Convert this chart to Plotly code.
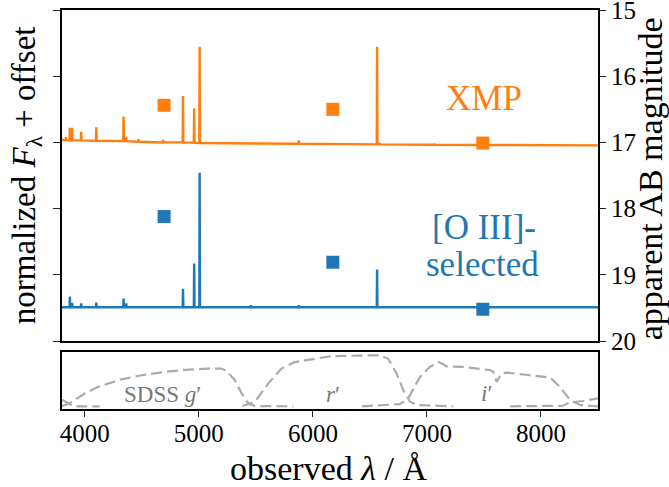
import plotly.graph_objects as go

# ---- spectra: emission-line centres (Å), peak heights and local continuum (offset flux units)
xmp_line_wl = [3835, 3869, 3889, 3968, 4101, 4340, 4363, 4471, 4686, 4861, 4959, 5007, 5876, 6563, 6584, 7065]
xmp_line_peak = [3.08, 3.22, 3.22, 3.16, 3.23, 3.39, 3.08, 3.05, 3.04, 3.70, 3.515, 4.445, 3.03, 4.445, 2.99, 2.98]
xmp_line_cont = [3.035, 3.03, 3.03, 3.03, 3.025, 3.02, 3.02, 3.01, 3.0, 3.0, 2.995, 2.99, 2.98, 2.97, 2.97, 2.965]
xmp_edge_wl = [3800, 8500]
xmp_edge_flux = [3.04, 2.955]

o3_line_wl = [3869, 3889, 3968, 4101, 4340, 4363, 4861, 4959, 5007, 5456, 5876, 6563]
o3_line_peak = [0.67, 0.575, 0.57, 0.58, 0.64, 0.57, 0.79, 1.17, 2.54, 0.54, 0.54, 1.08]
o3_line_cont = [0.51, 0.51, 0.51, 0.51, 0.51, 0.51, 0.51, 0.51, 0.51, 0.51, 0.51, 0.51]
o3_edge_wl = [3800, 8500]
o3_edge_flux = [0.51, 0.51]

# ---- broad-band photometry (AB mag) at the g', r', i' effective wavelengths
phot_wl = [4695, 6175, 7490]
xmp_mag = [16.44, 16.50, 17.01]
o3_mag = [18.12, 18.81, 19.52]

# ---- SDSS filter throughput curves
u_wl = [3800, 3850, 3900, 3950, 4130]
u_tr = [0.12, 0.06, 0.0, 0.0, 0.0]
g_wl = [3800, 3868, 4000, 4117, 4322, 4497, 4702, 4906, 5082, 5199, 5243, 5316, 5374, 5433, 5491, 5830]
g_tr = [0.0, 0.055, 0.24, 0.36, 0.50, 0.576, 0.637, 0.68, 0.70, 0.70, 0.656, 0.484, 0.24, 0.055, 0.005, 0.0]
r_wl = [5380, 5491, 5608, 5725, 5842, 6076, 6149, 6400, 6588, 6661, 6734, 6792, 6851, 6909, 7230]
r_tr = [0.0, 0.085, 0.42, 0.70, 0.82, 0.90, 0.926, 0.94, 0.945, 0.88, 0.61, 0.30, 0.085, 0.024, 0.0]
i_wl = [6430, 6763, 6836, 6939, 7026, 7099, 7143, 7173, 7319, 7553, 7582, 7611, 7655, 7699, 7904, 8079, 8167, 8254, 8342, 8500]
i_tr = [0.0, 0.04, 0.147, 0.545, 0.73, 0.82, 0.78, 0.74, 0.73, 0.67, 0.64, 0.45, 0.61, 0.625, 0.576, 0.534, 0.36, 0.116, 0.024, 0.0]
z_wl = [7730, 8193, 8254, 8371, 8500]
z_tr = [0.0, 0.01, 0.074, 0.098, 0.147]

filter_labels = ["SDSS <i>g</i>′", "<i>r</i>′", "<i>i</i>′"]
filter_label_wl = [4684, 6172, 7518]
filter_label_y = [0.21, 0.21, 0.24]

x_ticks = [4000, 5000, 6000, 7000, 8000]
mag_ticks = [15, 16, 17, 18, 19, 20]

ORANGE = "#ff7f0e"
BLUE = "#1f77b4"
GREY = "#ababab"
FONT = "Liberation Serif"


def spectrum(edge_wl, edge_flux, wl, peak, cont, half_width=3):
    xs, ys = [edge_wl[0]], [edge_flux[0]]
    for c, p, b in zip(wl, peak, cont):
        xs += [c - half_width, c, c + half_width]
        ys += [b, p, b]
    xs.append(edge_wl[1])
    ys.append(edge_flux[1])
    return xs, ys


fig = go.Figure()

for edges, fluxes, wl, pk, ct, col in [
    (xmp_edge_wl, xmp_edge_flux, xmp_line_wl, xmp_line_peak, xmp_line_cont, ORANGE),
    (o3_edge_wl, o3_edge_flux, o3_line_wl, o3_line_peak, o3_line_cont, BLUE),
]:
    sx, sy = spectrum(edges, fluxes, wl, pk, ct)
    fig.add_trace(go.Scatter(x=sx, y=sy, mode="lines", line=dict(color=col, width=2.4),
                             xaxis="x", yaxis="y", showlegend=False, hoverinfo="skip"))

for mags, col in [(xmp_mag, ORANGE), (o3_mag, BLUE)]:
    fig.add_trace(go.Scatter(x=phot_wl, y=mags, mode="markers",
                             marker=dict(symbol="square", size=13, color=col, line=dict(width=0)),
                             xaxis="x", yaxis="y2", showlegend=False))

for wl, tr in [(u_wl, u_tr), (g_wl, g_tr), (r_wl, r_tr), (i_wl, i_tr), (z_wl, z_tr)]:
    fig.add_trace(go.Scatter(x=wl, y=tr, mode="lines",
                             line=dict(color=GREY, width=2.2, dash="11px,5px"),
                             xaxis="x2", yaxis="y3", showlegend=False, hoverinfo="skip"))

axis_common = dict(showgrid=False, zeroline=False, showline=True, linecolor="black",
                   linewidth=1.5, mirror=True, automargin=False)

fig.update_layout(
    width=669, height=487,
    margin=dict(l=62, r=71, t=10, b=78, autoexpand=False),
    paper_bgcolor="white", plot_bgcolor="white",
    font=dict(family=FONT, color="black", size=25),
    xaxis=dict(domain=[0, 1], range=[3800, 8500], anchor="y", showticklabels=False,
               ticks="", **axis_common),
    yaxis=dict(domain=[0.1704, 1], range=[0, 5], tickvals=[0, 1, 2, 3, 4, 5],
               showticklabels=False, ticks="outside", ticklen=7, tickwidth=1.3,
               tickcolor="#222", anchor="x", **axis_common),
    yaxis2=dict(overlaying="y", side="right", range=[20, 15], tickvals=mag_ticks,
                ticks="outside", ticklen=7, tickwidth=1.3, tickcolor="#222",
                ticklabeloverflow="allow", automargin=False,
                showgrid=False, zeroline=False, showline=False, anchor="x",
                tickfont=dict(size=25, family=FONT)),
    xaxis2=dict(domain=[0, 1], range=[3800, 8500], anchor="y3", tickvals=x_ticks,
                ticks="outside", ticklen=6, tickwidth=1.3, tickcolor="#222",
                ticklabelstandoff=-5,
                tickfont=dict(size=25, family=FONT), **axis_common),
    yaxis3=dict(domain=[0, 0.142], range=[-0.05, 1.0], anchor="x2", showticklabels=False,
                ticks="", **axis_common),
)

annotations = [
    dict(text="normalized <i>F</i><sub>λ</sub> + offset", xref="paper", yref="paper",
         x=-0.066, y=0.585, xanchor="center", yanchor="middle", textangle=-90,
         showarrow=False, font=dict(size=33, family=FONT)),
    dict(text="apparent AB magnitude", xref="paper", yref="paper",
         x=1.098, y=0.577, xanchor="center", yanchor="middle", textangle=-90,
         showarrow=False, font=dict(size=34, family=FONT)),
    dict(text="observed <i>λ</i> / Å", xref="paper", yref="paper",
         x=0.497, y=-0.148, xanchor="center", yanchor="middle",
         showarrow=False, font=dict(size=34, family=FONT)),
    dict(text="XMP", xref="x", yref="y2", x=7496, y=16.34, xanchor="center", yanchor="middle",
         showarrow=False, font=dict(size=35, family=FONT, color=ORANGE)),
    dict(text="[O III]-", xref="x", yref="y2", x=7500, y=18.28, xanchor="center", yanchor="middle",
         showarrow=False, font=dict(size=35, family=FONT, color=BLUE)),
    dict(text="selected", xref="x", yref="y2", x=7490, y=18.85, xanchor="center", yanchor="middle",
         showarrow=False, font=dict(size=35, family=FONT, color=BLUE)),
]
for txt, wl, yv in zip(filter_labels, filter_label_wl, filter_label_y):
    annotations.append(dict(text=txt, xref="x2", yref="y3", x=wl, y=yv, xanchor="center",
                            yanchor="middle", showarrow=False,
                            font=dict(size=23, family=FONT, color="#777777")))
fig.update_layout(annotations=annotations)

fig.write_html("out.html")
